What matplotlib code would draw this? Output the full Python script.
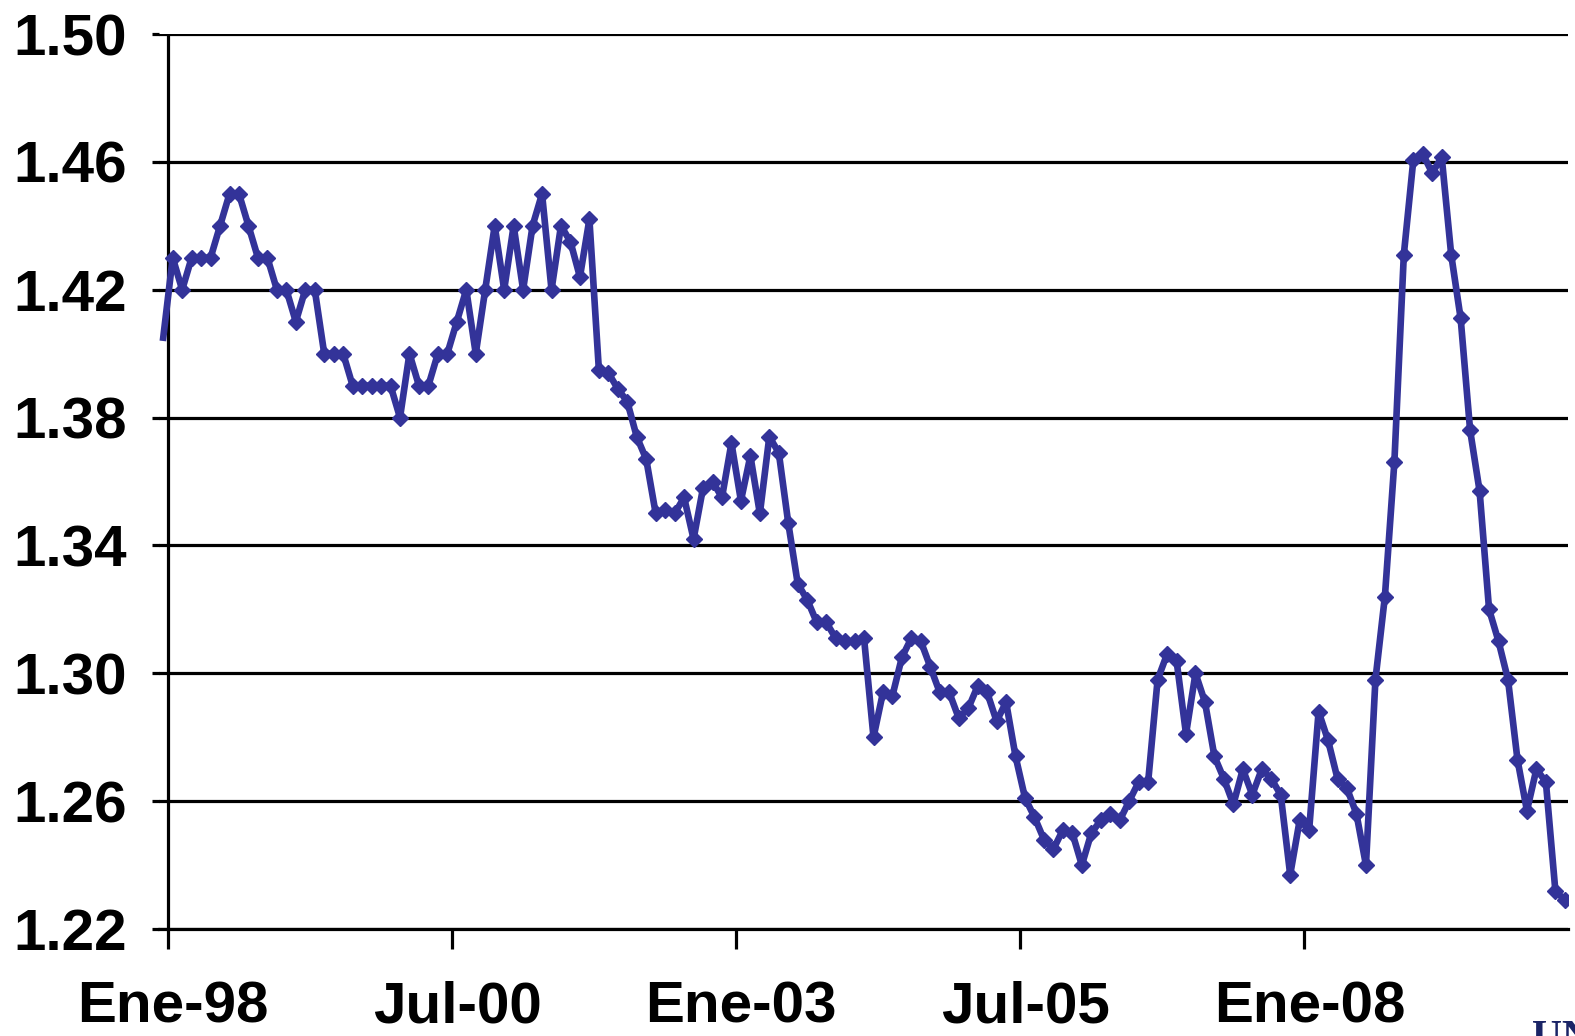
import numpy as np
import matplotlib
matplotlib.use("Agg")
import matplotlib.pyplot as plt
import matplotlib.transforms as mtransforms

# === Serie mensual (Dic-97 ... Mar-10) ===
valores = [
    1.405,
    1.430, 1.420, 1.430, 1.430, 1.430, 1.440, 1.450, 1.450, 1.440, 1.430, 1.430, 1.420,
    1.420, 1.410, 1.420, 1.420, 1.400, 1.400, 1.400, 1.390, 1.390, 1.390, 1.390, 1.390,
    1.380, 1.400, 1.390, 1.390, 1.400, 1.400, 1.410, 1.420, 1.400, 1.420, 1.440, 1.420,
    1.440, 1.420, 1.440, 1.450, 1.420, 1.440, 1.435, 1.424, 1.442, 1.395, 1.394, 1.389,
    1.385, 1.374, 1.367, 1.350, 1.351, 1.350, 1.355, 1.342, 1.358, 1.360, 1.355, 1.372,
    1.354, 1.368, 1.350, 1.374, 1.369, 1.347, 1.328, 1.323, 1.316, 1.316, 1.311, 1.310,
    1.310, 1.311, 1.280, 1.294, 1.293, 1.305, 1.311, 1.310, 1.302, 1.294, 1.294, 1.286,
    1.289, 1.296, 1.294, 1.285, 1.291, 1.274, 1.261, 1.255, 1.248, 1.245, 1.251, 1.250,
    1.240, 1.250, 1.254, 1.256, 1.254, 1.260, 1.266, 1.266, 1.298, 1.306, 1.304, 1.281,
    1.300, 1.291, 1.274, 1.267, 1.259, 1.270, 1.262, 1.270, 1.267, 1.262, 1.237, 1.254,
    1.251, 1.288, 1.279, 1.267, 1.264, 1.256, 1.240, 1.298, 1.324, 1.366, 1.431, 1.4605,
    1.4625, 1.4565, 1.4615, 1.431, 1.411, 1.376, 1.357, 1.320, 1.310, 1.298, 1.273, 1.257,
    1.270, 1.266, 1.232, 1.229,
]
# months counted from Ene-98 (first value is Dic-97), points drawn mid-month
meses = np.arange(len(valores)) - 1 + 0.5

ticks_x = [0, 30, 60, 90, 120]
etiquetas_x = ["Ene-98", "Jul-00", "Ene-03", "Jul-05", "Ene-08"]
ticks_y = [1.22, 1.26, 1.30, 1.34, 1.38, 1.42, 1.46, 1.50]

plt.rcParams['font.family'] = ['Liberation Sans', 'DejaVu Sans']
plt.rcParams['font.weight'] = 'bold'

W, H = 1575, 1036
fig = plt.figure(figsize=(W / 100, H / 100), dpi=100)
ax = fig.add_axes([158.5 / W, 1 - 929 / H, (1568 - 158.5) / W, (929 - 34) / H])

azul = '#333399'
ax.plot(meses, valores, color=azul, lw=4.8, marker='D', ms=8.5,
        mec=azul, mfc=azul, markevery=range(1, len(valores)),
        solid_joinstyle='round', zorder=3)

ax.set_xlim(-1.0, (1568 - 168) / 9.47)
ax.set_ylim(1.22, 1.50)

# gridlines + y axis line
ax.set_axisbelow(True)
ax.yaxis.grid(True, color='black', lw=2.3)
ax.axvline(0, color='black', lw=2.3, zorder=2)

for s in ['top', 'right', 'left']:
    ax.spines[s].set_visible(False)
ax.spines['bottom'].set_linewidth(2.3)

ax.set_yticks(ticks_y)
ax.set_yticklabels([f"{v:.2f}" for v in ticks_y])
ax.set_xticks(ticks_x)
ax.set_xticklabels(etiquetas_x)
ax.tick_params(axis='y', length=4.7, width=2.3, pad=18, labelsize=42)
ax.tick_params(axis='x', length=14.4, width=2.3, pad=23, labelsize=42)

# x labels sit a little right of their ticks
desplaza = mtransforms.ScaledTranslation(5 / 100, 0, fig.dpi_scale_trans)
for lbl in ax.get_xticklabels():
    lbl.set_transform(lbl.get_transform() + desplaza)

# clipped logo text bottom right
fig.text(1532 / W, 1 - 1020 / H, "UN", ha='left', va='top', fontsize=30,
         family=['Liberation Serif', 'DejaVu Serif'], weight='bold', color='#1a2466')

fig.savefig("out.png", dpi=100)
